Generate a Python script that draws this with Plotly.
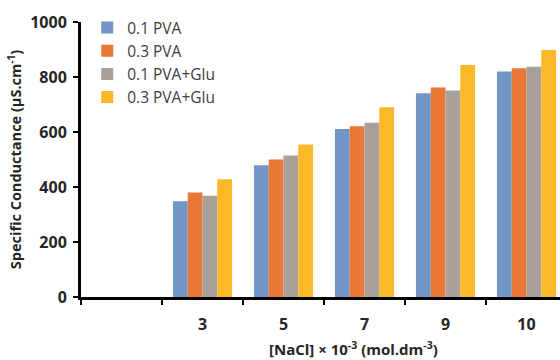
import plotly.graph_objects as go

concentrations = ["3", "5", "7", "9", "10"]
series_names = ["0.1 PVA", "0.3 PVA", "0.1 PVA+Glu", "0.3 PVA+Glu"]
pva01 = [348, 479, 611, 741, 820]
pva03 = [380, 500, 621, 762, 832]
pva01_glu = [368, 515, 634, 751, 837]
pva03_glu = [428, 555, 690, 844, 898]
colors = ["#7196c6", "#e87738", "#a8a09b", "#fbb828"]

categories = [" "] + concentrations
fig = go.Figure()
for name, vals, col in zip(series_names, [pva01, pva03, pva01_glu, pva03_glu], colors):
    fig.add_trace(go.Bar(x=concentrations, y=vals, name=name, legendgroup=name,
                         marker=dict(color=col, line=dict(width=0))))

font_family = "Open Sans, sans-serif"
fig.update_layout(
    width=560, height=360,
    margin=dict(l=81, r=0, t=22, b=63),
    paper_bgcolor="white", plot_bgcolor="white",
    barmode="group", bargap=0.27, bargroupgap=0,
    font=dict(family=font_family, color="#262626"),
    showlegend=True,
    legend=dict(x=0.013, y=1.04, xanchor="left", yanchor="top",
                font=dict(size=15.5, color="#404040"), tracegroupgap=0,
                bgcolor="rgba(0,0,0,0)"),
    xaxis=dict(type="category", categoryorder="array", categoryarray=categories,
               range=[-0.5, -0.5 + 479 / 81], tickson="boundaries",
               ticks="outside", ticklen=5, tickwidth=2, tickcolor="black",
               ticklabelstandoff=11,
               showline=True, linewidth=3, linecolor="black", showgrid=False,
               tickfont=dict(size=16, family=font_family, color="#262626", weight="bold")),
    yaxis=dict(range=[0, 1000], dtick=200, ticks="outside", ticklen=5, tickwidth=2,
               tickcolor="black", showline=True, linewidth=3, linecolor="black",
               showgrid=False, zeroline=False, ticklabelstandoff=3,
               tickfont=dict(size=16, family=font_family, color="#262626", weight="bold"),
               title=dict(text="Specific Conductance (µS.cm<sup>-1</sup>)", standoff=6,
                          font=dict(size=14.5, family=font_family, color="#262626", weight="bold"))),
    annotations=[dict(text="[NaCl] × 10<sup>-3</sup> (mol.dm<sup>-3</sup>)", xref="paper", yref="paper",
                      x=0.568, y=0, yanchor="middle", yshift=-51, showarrow=False,
                      font=dict(size=15, family=font_family, color="#262626", weight="bold"))],
)
fig.write_html("out.html")
